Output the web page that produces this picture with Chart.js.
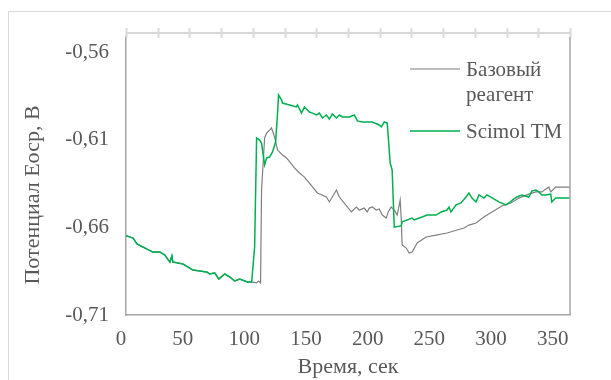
<!DOCTYPE html>
<html>
<head>
<meta charset="utf-8">
<script src="https://cdn.jsdelivr.net/npm/chart.js@4.4.1/dist/chart.umd.min.js"></script>
<style>
  body { margin: 0; background: #fff; }
  #wrap { width: 611px; height: 380px; }
</style>
</head>
<body>
<div id="wrap"><canvas id="myChart" width="611" height="380"></canvas></div>
<script>
// time, s
const greenTime = [0,5.7,8.9,13.7,21.8,27.5,31.5,35.6,37.2,38,42,46.1,54.2,65.5,67.9,71.9,75.2,80,84.1,88.1,92.2,98.6,101.9,104.3,105.9,108.3,109.9,112.4,114,116.4,118.8,121.3,122.9,123.7,126.1,126.9,132.6,138.2,139,142.3,144.7,148.7,151.2,154.4,156.8,159.3,162.5,164.9,167.3,170.6,173,175.4,181.1,185.1,187.6,191.6,199.7,205.3,207,209.4,211.8,214.2,215.8,217.5,223.1,223.9,232,233.6,240.1,244.1,251.4,255.5,260.3,261.9,263.5,267.6,271.6,275.7,278.1,280.5,283.8,286.2,290.2,292.6,298.3,302.3,308,310.4,314.5,316.9,320.9,326.6,329,332.3,334.7,337.1,340.3,344.4,345.2,348.4,360];
const greenValues = [-0.6648,-0.6661,-0.6695,-0.6712,-0.6741,-0.6741,-0.6758,-0.6798,-0.6763,-0.6798,-0.6803,-0.6809,-0.6843,-0.6855,-0.6866,-0.6860,-0.6895,-0.6866,-0.6883,-0.6906,-0.6895,-0.6912,-0.6912,-0.6712,-0.6090,-0.6102,-0.6119,-0.6244,-0.6204,-0.6199,-0.6170,-0.6113,-0.5948,-0.5845,-0.5873,-0.5891,-0.5902,-0.5913,-0.5902,-0.5948,-0.5913,-0.5942,-0.5948,-0.5959,-0.5948,-0.5976,-0.5959,-0.5982,-0.5953,-0.5976,-0.5959,-0.5970,-0.5970,-0.5959,-0.5993,-0.5999,-0.5999,-0.6016,-0.6027,-0.5999,-0.6005,-0.6233,-0.6273,-0.6598,-0.6592,-0.6569,-0.6547,-0.6558,-0.6541,-0.6530,-0.6530,-0.6512,-0.6501,-0.6484,-0.6512,-0.6472,-0.6461,-0.6427,-0.6404,-0.6433,-0.6455,-0.6415,-0.6433,-0.6415,-0.6438,-0.6455,-0.6472,-0.6461,-0.6438,-0.6427,-0.6415,-0.6427,-0.6393,-0.6387,-0.6398,-0.6415,-0.6415,-0.6410,-0.6455,-0.6433,-0.6433];

const grayTime = [0,5.7,8.9,13.7,21.8,27.5,31.5,35.6,37.2,38,42,46.1,54.2,65.5,67.9,71.9,75.2,80,84.1,88.1,92.2,98.6,101.9,102.7,105.9,107.5,109.1,109.9,112.4,114,116.4,118,120.5,122.9,126.9,130.2,136.6,140.7,144.7,155.2,162.5,164.9,170.6,173,182.7,186.7,189.2,193.2,195.6,197.3,199.7,202.9,205.3,207.8,211,212.6,215,217.5,219.9,222.3,223.1,223.9,227.2,229.6,232,236.1,243.3,251.4,260.3,268.4,274.1,278.1,283.8,290.2,296.7,304.8,312,318.5,325,332.3,337.1,342.8,344.4,348.4,360];
const grayValues = [-0.6648,-0.6661,-0.6695,-0.6712,-0.6741,-0.6741,-0.6758,-0.6798,-0.6763,-0.6798,-0.6803,-0.6809,-0.6843,-0.6855,-0.6866,-0.6860,-0.6895,-0.6866,-0.6883,-0.6906,-0.6895,-0.6912,-0.6912,-0.6912,-0.6917,-0.6906,-0.6917,-0.6387,-0.6090,-0.6062,-0.6045,-0.6033,-0.6085,-0.6159,-0.6187,-0.6204,-0.6261,-0.6290,-0.6313,-0.6404,-0.6427,-0.6455,-0.6387,-0.6427,-0.6512,-0.6484,-0.6501,-0.6490,-0.6512,-0.6490,-0.6484,-0.6501,-0.6495,-0.6530,-0.6547,-0.6512,-0.6484,-0.6501,-0.6530,-0.6444,-0.6541,-0.6701,-0.6718,-0.6746,-0.6741,-0.6689,-0.6655,-0.6644,-0.6632,-0.6615,-0.6604,-0.6587,-0.6575,-0.6541,-0.6512,-0.6478,-0.6461,-0.6433,-0.6415,-0.6398,-0.6398,-0.6370,-0.6398,-0.6370,-0.6370];

const xTicks = [0, 50, 100, 150, 200, 250, 300, 350];
const yTicks = [-0.71, -0.66, -0.61, -0.56];
const grayLabel = ["Базовый", "реагент"];
const greenLabel = ["Scimol TM"];
const xTitle = "Время, сек";
const yTitle = "Потенциал Еоср, В";

const serif = "'Liberation Serif', 'Times New Roman', serif";
const textColor = "#595959";

const toPoints = (xs, ys) => xs.map((x, i) => ({ x: x, y: ys[i] }));

const decor = {
  id: "decor",
  afterDraw(chart) {
    const ctx = chart.ctx;
    const a = chart.chartArea;
    ctx.save();
    // outer frame
    ctx.strokeStyle = "#d9d9d9";
    ctx.lineWidth = 1;
    ctx.strokeRect(8.5, 11.5, 800, 600);
    // top band with ticks
    ctx.lineWidth = 2;
    ctx.beginPath();
    ctx.moveTo(a.left, 33);
    ctx.lineTo(a.right, 33);
    for (let i = 0; i <= 14; i++) {
      const x = Math.round(a.left + (a.right - a.left) * i / 14) + 0.5;
      ctx.moveTo(x, 28);
      ctx.lineTo(x, 38);
    }
    ctx.stroke();
    // right border
    ctx.strokeStyle = "#a6a6a6";
    ctx.lineWidth = 1.5;
    ctx.beginPath();
    ctx.moveTo(a.right, a.top);
    ctx.lineTo(a.right, a.bottom);
    ctx.stroke();
    // y title
    ctx.fillStyle = textColor;
    ctx.font = "22px " + serif;
    ctx.textAlign = "center";
    ctx.textBaseline = "middle";
    ctx.translate(33, 195);
    ctx.rotate(-Math.PI / 2);
    ctx.fillText(yTitle, 0, 0);
    ctx.restore();

    // legend
    ctx.save();
    ctx.font = "21px " + serif;
    ctx.textAlign = "left";
    ctx.textBaseline = "middle";
    const entries = [
      { lines: grayLabel, color: "#7f7f7f", width: 1.2, y: 69 },
      { lines: greenLabel, color: "#00b050", width: 1.5, y: 131 }
    ];
    entries.forEach((e) => {
      ctx.strokeStyle = e.color;
      ctx.lineWidth = e.width;
      ctx.beginPath();
      ctx.moveTo(410, e.y);
      ctx.lineTo(460, e.y);
      ctx.stroke();
      ctx.fillStyle = textColor;
      e.lines.forEach((t, i) => ctx.fillText(t, 466, e.y + 1 + i * 25));
    });
    ctx.restore();
  }
};

const ctx = document.getElementById("myChart").getContext("2d");
const myChart = new Chart(ctx, {
  type: "line",
  data: {
    datasets: [
      {
        label: greenLabel.join(" "),
        data: toPoints(greenTime, greenValues),
        borderColor: "#00b050",
        borderWidth: 1.5,
        pointRadius: 0,
        tension: 0,
        order: 0
      },
      {
        label: grayLabel.join(" "),
        data: toPoints(grayTime, grayValues),
        borderColor: "#7f7f7f",
        borderWidth: 1.2,
        pointRadius: 0,
        tension: 0,
        order: 1
      }
    ]
  },
  options: {
    responsive: false,
    animation: false,
    layout: { padding: { top: 37, right: 41, left: 8, bottom: 0 } },
    plugins: { legend: { display: false }, tooltip: { enabled: false } },
    scales: {
      x: {
        type: "linear",
        min: 0,
        max: 360,
        afterBuildTicks: (s) => { s.ticks = xTicks.map((v) => ({ value: v })); },
        afterFit: (s) => { s.height = 65; },
        grid: { display: false, drawTicks: false },
        border: { color: "#a6a6a6", width: 1.5 },
        ticks: { color: textColor, font: { family: serif, size: 21 }, padding: 12, maxRotation: 0, labelOffset: -5 },
        title: { display: true, text: xTitle, color: textColor, font: { family: serif, size: 22 }, padding: { top: 0, bottom: 0 } }
      },
      y: {
        min: -0.71,
        max: -0.5514,
        afterBuildTicks: (s) => { s.ticks = yTicks.map((v) => ({ value: v })); },
        afterFit: (s) => { s.width = 118; },
        grid: { display: false, drawTicks: false },
        border: { color: "#a6a6a6", width: 1.5 },
        ticks: {
          color: textColor,
          font: { family: serif, size: 21 },
          padding: 17,
          callback: (v) => v.toFixed(2).replace(".", ",")
        }
      }
    }
  },
  plugins: [decor]
});
</script>
</body>
</html>
